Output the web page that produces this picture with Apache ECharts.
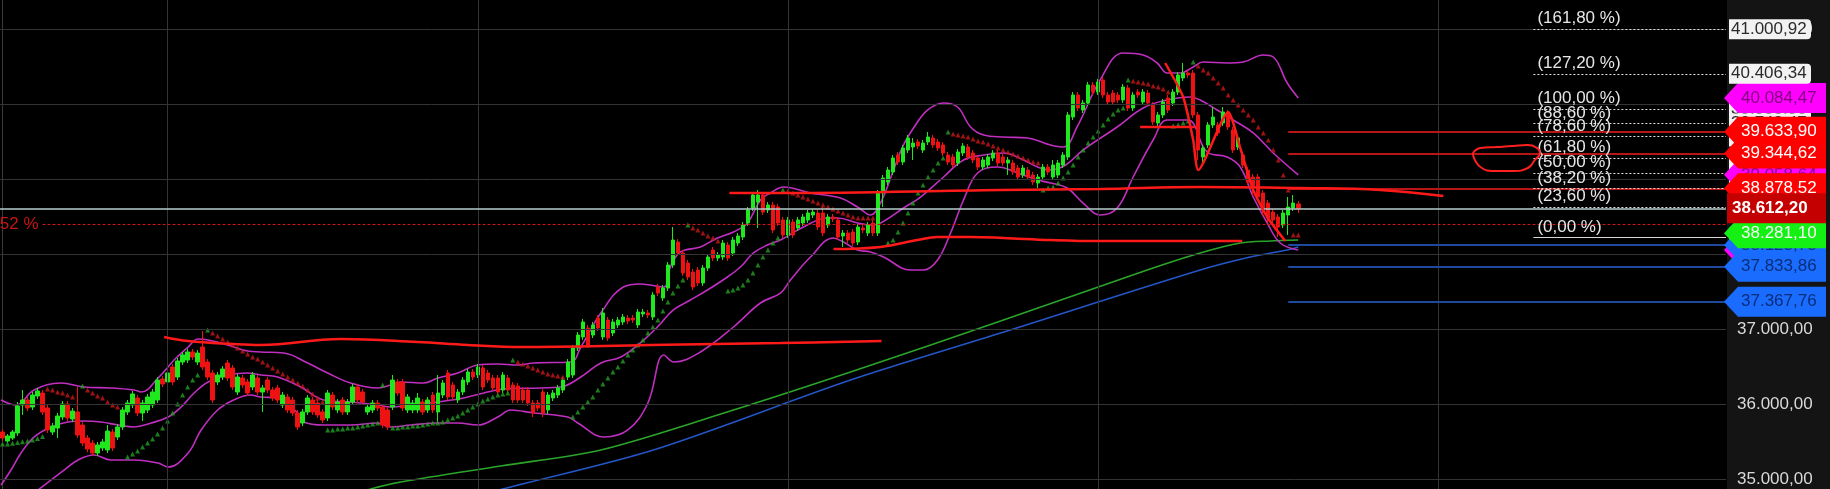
<!DOCTYPE html>
<html><head><meta charset="utf-8">
<script src="https://cdn.jsdelivr.net/npm/echarts@6/dist/echarts.min.js"></script>
<style>html,body{margin:0;padding:0;background:#000;}#c{width:1830px;height:489px;}</style>
</head><body><div id="c"></div>
<script>
// ---------- DATA ----------
// candles: [open, close, low, high]
const candles = [
[35630,35550,35510,35670],[35510,35577,35483,35603],[35550,35630,35523,35657],[35617,35977,35577,36030],[35990,36057,35857,36190],
[36057,35950,35910,36097],[35963,36123,35923,36163],[36110,36177,36070,36217],[36150,35897,35857,36190],[35950,35657,35617,35990],
[35630,35710,35590,35750],[35683,35843,35550,35883],[35830,36003,35790,36043],[36003,35817,35777,36043],[35803,35910,35763,35950],
[35897,35590,35550,36230],[35723,35483,35443,35763],[35550,35403,35363,35590],[35483,35350,35310,35523],[35350,35457,35310,35497],
[35417,35497,35377,35537],[35390,35643,35350,35723],[35630,35417,35377,35670],[35563,35697,35523,35737],[35697,35923,35657,35963],
[35897,36017,35857,36057],[35990,36137,35950,36177],[36083,35883,35843,36123],[35883,36017,35777,36057],[35923,36097,35883,36137],
[35990,36163,35950,36203],[36057,36323,36017,36363],[36337,36270,36230,36377],[36297,36417,36257,36457],[36497,36297,36257,36537],
[36363,36577,36323,36617],[36563,36657,36523,36697],[36590,36697,36550,36737],[36697,36630,36590,36737],[36563,36683,36523,36723],
[36763,36497,36457,36977],[36563,36363,36323,36603],[36417,36057,36017,36457],[36297,36390,36257,36430],[36363,36470,36323,36510],
[36550,36350,36310,36590],[36483,36230,36190,36523],[36163,36363,36123,36403],[36350,36257,36217,36390],[36297,36150,36110,36337],
[36230,36390,36190,36430],[36350,36163,36123,36390],[36163,36217,35897,36257],[36323,36190,36150,36363],[36190,36083,36043,36230],
[36217,36057,36017,36257],[35990,36123,35950,36163],[36097,35923,35883,36137],[36057,35883,35843,36097],[35883,35697,35657,35923],
[35750,35897,35710,35937],[35897,36083,35857,36123],[36057,35897,35857,36097],[36017,35857,35817,36057],[35897,35790,35750,35937],
[35817,36150,35777,36190],[36123,35963,35923,36163],[35923,36030,35883,36070],[36057,35897,35857,36097],[35897,36030,35857,36070],
[36030,36230,35990,36270],[36230,36057,36017,36270],[36163,36030,35990,36203],[35897,35963,35857,36003],[35923,36017,35883,36057],
[36017,35950,35910,36057],[35963,35723,35683,36003],[35923,35697,35657,35963],[35963,36323,35923,36390],[36297,36150,36110,36337],
[36297,35950,35910,36337],[35923,36097,35883,36137],[35923,36017,35883,36057],[35923,36083,35883,36150],[36030,35897,35857,36070],
[35923,36057,35883,36097],[36123,35923,35883,36163],[35897,36150,35750,36390],[36123,36283,36083,36323],[36417,36097,36057,36457],
[36257,36097,36057,36297],[36057,36163,36017,36203],[36163,36323,36123,36363],[36297,36430,36257,36470],[36430,36363,36323,36470],
[36390,36497,36350,36537],[36483,36230,36190,36523],[36417,36323,36283,36457],[36350,36217,36177,36390],[36350,36163,36123,36390],
[36190,36390,36150,36430],[36350,36190,36150,36390],[36257,36057,36017,36297],[36243,36057,36017,36283],[36190,36057,36017,36230],
[36190,36017,35977,36230],[36017,35883,35830,36057],[36017,35950,35910,36057],[36163,35883,35830,36203],[35923,36123,35870,36163],
[36083,36150,36043,36190],[36123,36217,36083,36257],[36190,36323,36150,36363],[36363,36563,36323,36603],[36390,36750,36350,36790],
[36750,36923,36710,36963],[36897,37097,36857,37137],[37017,36790,36750,37057],[36923,37057,36883,37097],[37150,37017,36977,37190],
[36897,37217,36857,37283],[37123,36883,36843,37163],[36950,37097,36910,37137],[37057,37123,37017,37163],[37097,37163,37057,37203],
[37150,37110,37070,37190],[37150,37123,37083,37190],[37057,37230,37017,37270],[37203,37230,37163,37270],[37217,37190,37150,37257],
[37163,37457,37123,37497],[37563,37483,37443,37603],[37417,37550,37377,37590],[37550,37857,37510,37897],[37857,38190,37817,38363],
[38163,38017,37977,38203],[38017,37750,37710,38057],[37883,37697,37657,37923],[37763,37563,37523,37803],[37790,37617,37577,37830],
[37617,37817,37577,37857],[37817,37963,37777,38003],[38057,37950,37910,38097],[37950,37990,37910,38030],[37963,38150,37923,38190],
[38123,37950,37910,38163],[38017,38190,37977,38230],[38150,38243,38110,38283],[38230,38390,38190,38430],[38417,38590,38377,38630],
[38617,38790,38577,38830],[38697,38790,38350,38857],[38790,38563,38523,38830],[38590,38657,38550,38697],[38657,38323,38283,38697],
[38630,38417,38377,38670],[38457,38257,38217,38497],[38257,38457,38217,38497],[38430,38257,38217,38470],[38350,38457,38310,38497],
[38417,38497,38377,38537],[38457,38550,38417,38590],[38523,38563,38483,38603],[38550,38363,38323,38590],[38550,38283,38243,38630],
[38390,38497,38350,38537],[38497,38470,38430,38537],[38457,38230,38190,38497],[38243,38283,38097,38323],[38283,38190,38150,38323],
[38297,38150,38110,38337],[38163,38363,38123,38403],[38350,38323,38283,38390],[38283,38390,38243,38430],[38417,38283,38243,38457],
[38283,38817,38243,38857],[38817,39017,38630,39057],[38963,39123,38923,39163],[39097,39283,39057,39323],[39323,39230,39190,39363],
[39230,39417,39190,39457],[39390,39550,39350,39590],[39430,39483,39257,39550],[39497,39443,39403,39537],[39390,39483,39350,39523],
[39497,39563,39457,39630],[39550,39457,39417,39590],[39497,39417,39377,39537],[39457,39350,39310,39497],[39323,39230,39190,39363],
[39297,39190,39150,39337],[39217,39363,39177,39403],[39350,39443,39310,39483],[39430,39297,39257,39470],[39350,39257,39217,39390],
[39283,39163,39123,39323],[39163,39257,39123,39297],[39190,39297,39150,39337],[39283,39350,39243,39390],[39350,39217,39177,39390],
[39297,39217,39177,39337],[39217,39257,39057,39297],[39217,39097,39057,39257],[39150,39030,38990,39190],[39057,39150,39017,39190],
[39123,39030,38990,39163],[39057,38963,38923,39097],[38950,39030,38883,39070],[39030,39163,38990,39203],[39163,39097,39057,39203],
[39030,39190,38990,39257],[39057,39217,39017,39257],[39190,39323,39150,39363],[39297,39857,39257,39897],[39830,40123,39790,40163],
[40123,39950,39910,40163],[39923,40017,39883,40057],[40017,40257,39977,40297],[40257,40163,40123,40297],[40163,40297,40123,40337],
[40323,40123,40083,40363],[40123,40030,39990,40163],[40150,40030,39990,40190],[40123,40057,40017,40163],[40057,40230,40017,40270],
[40217,39950,39910,40257],[39950,40123,39910,40163],[40163,40123,40083,40203],[40030,40163,39990,40203],[40150,40017,39977,40190],
[39990,39763,39723,40030],[39750,39857,39710,39897],[39857,40030,39817,40070],[40083,39923,39883,40123],[40017,40163,39977,40203],
[40163,40390,40123,40430],[40350,40417,40310,40550],[40417,40390,40350,40457],[40417,39857,39817,40457],[39857,39390,39257,39897],
[39297,39417,39230,39457],[39457,39723,39417,39763],[39723,39830,39683,39963],[39723,39617,39577,39763],[39750,39897,39710,39963],
[39883,39697,39657,39923],[39657,39390,39350,39697],[39430,39550,39390,39590],[39323,39190,39150,39363],[39123,38963,38923,39163],
[39030,38897,38790,39070],[39030,38763,38723,39070],[38817,38590,38510,38857],[38683,38483,38417,38723],[38563,38457,38390,38603],
[38497,38363,38230,38537],[38390,38550,38350,38590],[38523,38630,38257,38763],[38617,38683,38577,38790],[38670,38612.2,38550,38710]
];

// Bollinger bands, read at sparse points: [candle index, value]
const bbUpper = [[-0.3,36057],[2.7,35990],[6.3,36190],[11.7,36283],[16.3,36230],[21.7,36217],[26.3,36190],[27.7,36163],[31.1,36350],[34.3,36590],[37.1,36763],[39.1,36870],[41.1,36857],[45,36790],[49,36710],[51.6,36697],[56.2,36683],[61,36550],[65,36417],[69.6,36283],[75,36217],[77.6,36257],[79.6,36297],[84.2,36283],[87,36350],[91,36417],[95,36523],[99,36537],[103,36523],[106.2,36550],[113.6,36563],[115.6,36763],[119.6,37217],[124.1,37563],[127.5,37603],[132.2,37563],[133.5,37830],[135.5,38030],[139.5,38097],[142.9,38217],[146.1,38297],[148.9,38417],[151.5,38723],[153.5,38817],[156.1,38897],[161.5,38817],[167.5,38750],[170.9,38630],[173.5,38523],[175.5,38683],[178.1,39123],[180.1,39457],[182.5,39723],[184.9,39923],[188.1,40017],[190.9,39963],[193.5,39697],[196.1,39590],[200.1,39563],[204.9,39550],[209.5,39457],[212.1,39430],[214.8,39697],[219.4,40323],[224,40683],[228,40657],[230.8,40550],[232.8,40417],[235.4,40417],[238,40497],[240,40563],[244.8,40550],[248,40563],[252,40657],[254,40630],[256.8,40283],[259,40084.47]];
const bbMiddle = [[-0.3,34923],[1.7,35123],[3.7,35350],[6.3,35563],[9.7,35697],[13.1,35763],[16.3,35777],[19.7,35763],[23.1,35723],[26.3,35697],[29.7,35750],[33.1,35830],[35.7,35963],[38.3,36150],[41.1,36297],[45,36390],[49,36417],[51.6,36390],[55,36363],[59.6,36230],[64.2,36057],[69.6,36030],[75,35990],[77.6,35963],[81.6,35990],[87,36030],[92.2,36083],[96.2,36150],[100.2,36203],[107.6,36217],[111.6,36230],[115.6,36363],[119.6,36550],[123.6,36630],[127.5,36817],[130.9,37030],[134.1,37257],[137.5,37390],[140.9,37523],[144.9,37697],[147.5,37830],[150.1,38017],[152.9,38123],[155.5,38190],[160.1,38363],[164.9,38483],[166.9,38483],[170.9,38417],[173.5,38390],[175.5,38417],[180.1,38617],[183.5,38763],[188.1,39030],[192.1,39257],[196.1,39323],[200.1,39350],[204.1,39257],[206.9,39163],[209.5,39123],[212.5,39190],[216,39390],[222.8,39697],[228,39950],[232.8,40057],[237.4,40097],[239.4,40057],[242.8,39923],[246,39790],[250,39617],[254,39350],[259,39058.64]];
const bbLower = [[6,34800],[12.3,35123],[15.1,35257],[18.3,35323],[21.7,35257],[26.3,35257],[31.1,35217],[33.1,35163],[37.1,35350],[39.7,35657],[43,35923],[46.2,36057],[49.6,36123],[51.6,36097],[55,36083],[59,35883],[60.2,35763],[64.2,35723],[69.6,35723],[75,35750],[77.6,35697],[81.6,35723],[87,35750],[91,35750],[95,35723],[99,35830],[101.6,35923],[106.2,35883],[113,35830],[115,35750],[120.2,35563],[125,35657],[129,36017],[132.2,36657],[134.2,36563],[139.5,36697],[146.1,37030],[151.5,37350],[155.5,37483],[157.5,37657],[161.5,37963],[166.1,38217],[168.1,38163],[170.9,38057],[173.5,38030],[176.1,37963],[181.5,37790],[184.1,37790],[186.9,37923],[189.5,38283],[192.1,38723],[194.9,39083],[198.9,39163],[202.9,39083],[206.9,38990],[209.5,38950],[212.8,38883],[216,38683],[219.4,38523],[222.8,38617],[226,39030],[230,39523],[232.8,39790],[236.8,39790],[238,39750],[240.8,39363],[244.8,39297],[247.4,39163],[250,38763],[252.8,38417],[255.4,38150],[259,38057.2]];

// moving averages
const maGreen = [[60,34600],[73.6,34870],[79.6,34963],[99.6,35177],[119.6,35390],[146.1,35923],[169.5,36430],[199.5,37110],[228.8,37790],[239.4,38017],[247.4,38150],[253.4,38177],[259,38190]];
const maBlue = [[90,34690],[100,34870],[130.1,35390],[169.5,36323],[199.5,36950],[239.4,37790],[249.4,37963],[256.8,38057],[259,38097]];

// parabolic SAR dots
const sarGreen = [[0,35470],[1,35470],[2,35480],[3,35490],[4,35500],[5,35510],[6,35525],[7,35545],[8,35570],[16,36243],
[25,35297],[26,35337],[27,35377],[28,35430],[29,35483],[30,35537],[31,35603],[32,35683],[33,35777],[34,35883],[35,36003],[36,36123],[37,36230],[38,36323],[39,36390],[41,36990],
[65,35657],[66,35657],[67,35670],[68,35670],[69,35683],[70,35683],[71,35697],[72,35710],[73,35723],[74,35737],[75,35750],[76,36257],
[78,35683],[79,35683],[80,35697],[81,35697],[82,35710],[83,35710],[84,35723],[85,35737],[86,35750],[87,35750],[88,35763],[89,35790],[90,35817],[91,35843],[92,35883],[93,35923],[94,35963],[95,36003],[96,36043],[97,36070],[98,36097],[99,36123],[100,36137],[101,36150],[102,36590],
[114,35830],[115,35897],[116,35963],[117,36030],[118,36097],[119,36190],[120,36270],[121,36350],[122,36430],[123,36497],[124,36577],[125,36657],[126,36723],[127,36790],[128,36857],[129,36950],[130,37030],[131,37123],[132,37243],[133,37363],[134,37483],[135,37577],[136,37657],[137,38390],
[145,37510],[146,37523],[147,37550],[148,37590],[149,37657],[150,37750],[151,37857],[152,37963],[153,38057],[154,38150],[155,38217],[156,38857],
[177,38150],[178,38190],[179,38297],[180,38417],[181,38550],[182,38683],[183,38817],[184,38923],[185,39030],[186,39123],[187,39217],[188,39283],[189,39630],
[208,38857],[209,38883],[210,38897],[211,38950],[212,39017],[213,39097],[214,39190],[215,39297],[216,39390],[217,39483],[218,39563],[219,39643],[220,39723],[221,39803],[222,39870],[223,39923],[224,39950],[225,40323],
[234,39710],[235,39723],[236,39750],[237,39777],[238,40563]];
const sarRed = [[9,36203],[10,36190],[11,36163],[12,36150],[13,36123],[14,36097],
[17,36190],[18,36150],[19,36110],[20,36083],[21,36030],[22,35990],[23,35963],
[42,36950],[43,36910],[44,36870],[45,36830],[46,36790],[47,36750],[48,36710],[49,36670],[50,36630],[51,36603],[52,36563],[53,36523],[54,36483],[55,36443],[56,36403],[57,36363],[58,36323],[59,36283],[60,36243],[61,36190],[62,36137],[63,36083],[64,36030],
[103,36563],[104,36537],[105,36510],[106,36483],[107,36457],[108,36430],[109,36403],[110,36390],[111,36377],[112,36363],
[138,38350],[139,38323],[140,38283],[141,38243],[142,38217],[143,38177],
[157,38843],[158,38817],[159,38790],[160,38763],[161,38737],[162,38710],[163,38683],[164,38657],[165,38630],[166,38603],[167,38577],[168,38550],[169,38523],[170,38497],[171,38483],[172,38483],[173,38483],[174,38483],
[190,39603],[191,39590],[192,39577],[193,39563],[194,39537],[195,39510],[196,39497],[197,39470],[198,39443],[199,39417],[200,39390],[201,39363],[202,39337],[203,39310],[204,39283],[205,39257],[206,39230],[207,39217],
[226,40310],[227,40297],[228,40283],[229,40270],[230,40243],[231,40230],[232,40203],[233,40163],
[239,40510],[240,40457],[241,40417],[242,40350],[243,40283],[244,40217],[245,40123],[246,40057],[247,39990],[248,39923],[249,39857],[250,39790],[251,39697],[252,39617],[253,39523],[254,39390],[255,39257],[256,39057],[257,38857],
[258,38257],[259,38257]];

// hand-drawn red annotations
const annLeft = [[32.3,36897],[37.1,36843],[46.2,36803],[51.6,36790],[67.6,36870],[83,36830],[93,36790],[103.6,36763],[129.5,36790],[155.5,36817],[175.7,36843]];
const annMid = [[145.3,38817],[155.5,38817],[199.5,38857],[219.4,38870],[239.4,38897],[259.4,38883],[275.4,38857],[288,38777]];
const annLow = [[166.1,38070],[175.5,38097],[182.9,38190],[186.9,38230],[193.5,38230],[200.1,38217],[209.5,38190],[219.4,38177],[247.8,38177]];
const annShort = [[227.4,39697],[238.4,39697]];
const annZig = [[232.4,40550],[236,40097],[238,39523],[239,39123],[245,39897],[247.4,39417],[250,38857],[252.8,38497],[256.4,38177]];
const annLoop = [[293.9,39350],[295.4,39417],[298.7,39430],[301.9,39443],[304.7,39457],[306.7,39417],[307.3,39350],[306.3,39257],[304.9,39150],[301.9,39110],[297.9,39110],[295.7,39150],[294.3,39257],[293.9,39350]];

// horizontal levels
const levelRed = [39633.90, 39344.62, 38878.52];
const levelBlue = [38123.73, 37833.86, 37367.76];
const lastPrice = 38612.20;
const pctLine = 38403;
const pctLabel = '-0,52 %';
const fibPct = [161.8, 127.2, 100, 88.6, 78.6, 61.8, 50, 38.2, 23.6, 0];
const fibVal = [41000.92, 40406.34, 39938.90, 39743.47, 39571.44, 39282.50, 39079.71, 38876.93, 38626.37, 38220.50];

// axis / grid
const axisTicks = [35000, 36000, 37000, 38000, 39000, 40000, 41000];
const xGridIdx = [33, 95, 157, 219, 287];
const NCAT = 345;

// price tags on the right (draw order = stacking order)
const tagValue = [39938.90, 39743.47, 39571.44, 39282.50, 39079.71, 38876.93, 38626.37, 38220.50,
  38057.20, 38123.73, 39058.64, 39633.90, 39344.62, 40084.47, 38878.52, 38281.10, 38612.20, 37833.86, 37367.76, 41000.92, 40406.34];
const tagKind = ['white','white','white','white','white','white','white','white',
  'arrow','arrow','arrow','arrow','arrow','arrow','arrow','arrow','rect','arrow','arrow','white','white'];
const tagFill = ['#f2f2f2','#f2f2f2','#f2f2f2','#f2f2f2','#f2f2f2','#f2f2f2','#f2f2f2','#f2f2f2',
  '#ff00ff','#1a6cff','#ff00ff','#ff0000','#ff0000','#ff00ff','#ff0000','#14f014','#c40000','#1a6cff','#1a6cff','#f2f2f2','#f2f2f2'];
const tagInk = ['#2a2a2a','#2a2a2a','#2a2a2a','#2a2a2a','#2a2a2a','#2a2a2a','#2a2a2a','#2a2a2a',
  '#80007f','#0a2d7a','#80007f','#ffffff','#ffffff','#80007f','#ffffff','#f4fff4','#ffffff','#0a2d7a','#0a2d7a','#2a2a2a','#2a2a2a'];

// ---------- CHART ----------
const FONT = '"Liberation Sans", Arial, sans-serif';
const fmt = v => { const s = v.toFixed(2).split('.'); return s[0].replace(/\B(?=(\d{3})+(?!\d))/g, '.') + ',' + s[1]; };
const pctFmt = p => '(' + p.toFixed(2).replace('.', ',') + ' %)';
const categories = Array.from({length: NCAT}, (_, k) => String(k));
const XEND = NCAT - 0.5;

const rows = axisTicks.map(v => ({v, kind: 'axis'})).concat(
  tagValue.map((v, k) => ({v, kind: tagKind[k], fill: tagFill[k], ink: tagInk[k]})));

function seg(x0, v) { return [{coord: [x0, v]}, {coord: [XEND, v]}]; }

const chart = echarts.init(document.getElementById('c'));
const lineS = (data, color, width, z, smooth) => ({
  type: 'line', xAxisIndex: 1, data, showSymbol: false, smooth: smooth || false, silent: true, z,
  lineStyle: {color, width}, emphasis: {disabled: true}
});

chart.setOption({
  backgroundColor: '#000',
  animation: false,
  grid: {left: -1, right: 104, top: 0, bottom: 0},
  xAxis: [
    {type: 'category', data: categories, boundaryGap: true, show: false},
    {type: 'value', min: -0.5, max: XEND, show: false}
  ],
  yAxis: {type: 'value', min: 34870, max: 41390, position: 'right',
    axisLine: {show: true, lineStyle: {color: '#3a3a3a', width: 1}},
    axisLabel: {show: false}, axisTick: {show: false}, splitLine: {show: false}},
  graphic: [{type: 'rect', right: 0, top: 0, shape: {width: 103, height: 489}, style: {fill: '#141414'}, z: -1, silent: true}],
  series: [
    { // grid lines
      type: 'line', xAxisIndex: 1, data: [], z: 1, silent: true,
      markLine: {silent: true, symbol: 'none', animation: false, label: {show: false},
        lineStyle: {color: '#343434', width: 1, type: 'solid'},
        data: axisTicks.map(v => ({yAxis: v})).concat(xGridIdx.map(i => ({xAxis: i})))}
    },
    lineS(maGreen, '#2aa52a', 1.6, 2, 0.3),
    lineS(maBlue, '#2456c8', 1.6, 2, 0.3),
    lineS(bbUpper, '#c02fc0', 1.6, 2, 0.4),
    lineS(bbMiddle, '#c02fc0', 1.6, 2, 0.4),
    lineS(bbLower, '#c02fc0', 1.6, 2, 0.4),
    {
      type: 'candlestick', xAxisIndex: 0, data: candles, barWidth: 4, z: 3, silent: true,
      itemStyle: {color: '#1fe81f', color0: '#ee1212', borderColor: '#1fe81f', borderColor0: '#ee1212', borderWidth: 1}
    },
    {type: 'scatter', xAxisIndex: 1, data: sarGreen, symbol: 'triangle', symbolSize: 5, z: 4, silent: true, itemStyle: {color: '#249c24'}},
    {type: 'scatter', xAxisIndex: 1, data: sarRed, symbol: 'triangle', symbolSize: 5, z: 4, silent: true, itemStyle: {color: '#c41818'}},
    { // level lines, price line, fibonacci
      type: 'line', xAxisIndex: 1, data: [], z: 4, silent: true,
      markLine: {silent: true, symbol: 'none', animation: false, label: {show: false},
        data: [].concat(
          levelRed.map(v => { const s = seg(257, v); s[0].lineStyle = {color: '#b81616', width: 2, type: 'solid'}; return s; }),
          levelBlue.map(v => { const s = seg(257, v); s[0].lineStyle = {color: '#1d4a9e', width: 2, type: 'solid'}; return s; }),
          [[{coord: [8, pctLine], lineStyle: {color: '#d01515', width: 1, type: [3, 2]},
             label: {show: true, position: 'start', formatter: pctLabel, color: '#c81414', fontSize: 17, fontFamily: FONT, distance: 4}},
            {coord: [XEND, pctLine]}]],
          fibVal.map((v, k) => [{coord: [306, v],
              lineStyle: fibPct[k] === 0 ? {color: '#d8d8d8', width: 1, type: 'solid'} : {color: '#e0e0e0', width: 1, type: [2, 2]},
              label: {show: true, position: 'insideStartTop', formatter: pctFmt(fibPct[k]), color: '#e6e6e6', fontSize: 17, fontFamily: FONT, distance: [4, 2]}},
            {coord: [XEND, v]}]),
          [[{coord: [-0.5, lastPrice], lineStyle: {color: '#b5cccc', width: 1.5, type: 'solid'}}, {coord: [XEND, lastPrice]}]]
        )}
    },
    lineS(annLeft, '#ff1a1a', 2.5, 5, 0.4),
    lineS(annMid, '#ff1a1a', 2.5, 5, 0.4),
    lineS(annLow, '#ff1a1a', 2.5, 5, 0.4),
    lineS(annShort, '#ff1a1a', 2.5, 5, false),
    lineS(annZig, '#ff1a1a', 2.5, 5, 0.2),
    lineS(annLoop, '#ff2020', 2, 5, 0.5),
    { // right axis labels and price tags
      type: 'custom', xAxisIndex: 1, yAxisIndex: 0, clip: false, silent: true, z: 20,
      data: rows.map(r => [0, r.v]),
      renderItem: function (params, api) {
        const r = rows[params.dataIndex];
        const y = api.coord([0, api.value(1)])[1];
        const X = params.coordSys.x + params.coordSys.width;
        const z = 10 + params.dataIndex * 2;
        const font = '17px ' + FONT;
        if (r.kind === 'axis') {
          return {type: 'text', z2: z, style: {text: fmt(r.v), x: X + 11, y: y, fill: '#d9d9d9', font, textAlign: 'left', textVerticalAlign: 'middle'}};
        }
        let shape, tx;
        if (r.kind === 'white') {
          shape = {type: 'rect', z2: z, shape: {x: X + 3, y: y - 10, width: 82, height: 20, r: [0, 4, 4, 0]}, style: {fill: r.fill}};
          tx = X + 5;
        } else if (r.kind === 'rect') {
          shape = {type: 'rect', z2: z, shape: {x: X + 1, y: y - 15, width: 99, height: 30}, style: {fill: r.fill}};
          tx = X + 6;
        } else {
          shape = {type: 'polygon', z2: z, shape: {points: [[X - 2, y], [X + 12, y - 15], [X + 100, y - 15], [X + 100, y + 15], [X + 12, y + 15]]}, style: {fill: r.fill}};
          tx = X + 15;
        }
        return {type: 'group', children: [shape,
          {type: 'text', z2: z + 1, style: {text: fmt(r.v), x: tx, y: y, fill: r.ink,
            font: (r.kind === 'rect' ? 'bold ' : '') + font, textAlign: 'left', textVerticalAlign: 'middle'}}]};
      }
    }
  ]
});
</script></body></html>
